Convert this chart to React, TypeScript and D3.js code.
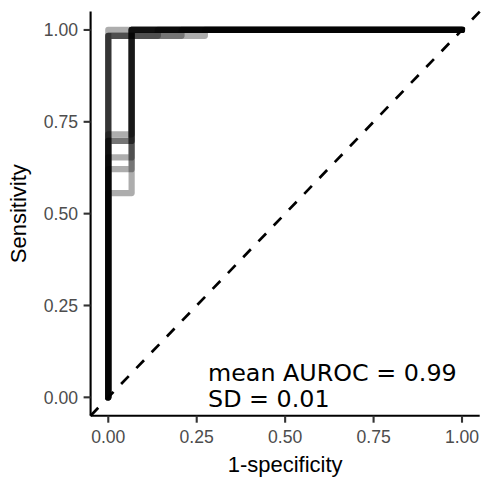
import React from "react";
import * as d3 from "d3";

// ROC curve data
const perfectFPR = [0, 0, 1];
const perfectTPR = [0, 1, 1];
const lateSens = 0.984;
const lateFPR = [0.14, 0.207, 0.273];
const stepFPR = 0.066;
const stepSens = [0.716, 0.698, 0.698, 0.653, 0.621, 0.556];

const xTicks = [0, 0.25, 0.5, 0.75, 1];
const yTicks = [0, 0.25, 0.5, 0.75, 1];
const meanAUROC = "0.99";
const sdAUROC = "0.01";

type Curve = { fpr: number[]; tpr: number[] };
const curves: Curve[] = [
  { fpr: perfectFPR, tpr: perfectTPR },
  ...lateFPR.map((f) => ({ fpr: [0, 0, f, f, 1], tpr: [0, lateSens, lateSens, 1, 1] })),
  ...stepSens.map((s) => ({ fpr: [0, 0, stepFPR, stepFPR, 1], tpr: [0, s, s, 1, 1] })),
];

export default function App() {
  const x = d3.scaleLinear().domain([-0.05, 1.05]).range([90.6, 479.7]);
  const y = d3.scaleLinear().domain([-0.05, 1.05]).range([415.7, 11.6]);
  const line = d3
    .line<[number, number]>()
    .x((d) => x(d[0]))
    .y((d) => y(d[1]));
  const tickFmt = d3.format(".2f");
  const sans = "'Liberation Sans', Arial, Helvetica, sans-serif";
  const left = x.range()[0];
  const bottom = y.range()[0];

  return (
    <svg
      width={481}
      height={481}
      style={{ position: "absolute", left: 0, top: 0, background: "#fff" }}
    >
      <rect x={0} y={0} width={481} height={481} fill="#fff" />
      {curves.map((c, i) => (
        <path
          key={i}
          d={line(c.fpr.map((f, j) => [f, c.tpr[j]] as [number, number])) || ""}
          fill="none"
          stroke="#000"
          strokeOpacity={0.32}
          strokeWidth={6.2}
          strokeLinecap="round"
          strokeLinejoin="round"
        />
      ))}
      <line
        x1={x(-0.05)}
        y1={y(-0.05)}
        x2={x(1.05)}
        y2={y(1.05)}
        stroke="#000"
        strokeWidth={2.7}
        strokeDasharray="11 11"
      />
      {/* axes */}
      <line x1={left} x2={x.range()[1]} y1={bottom} y2={bottom} stroke="#000" strokeWidth={2.1} />
      <line x1={left} x2={left} y1={y.range()[1]} y2={bottom} stroke="#000" strokeWidth={2.1} />
      {xTicks.map((t) => (
        <g key={"x" + t}>
          <line x1={x(t)} x2={x(t)} y1={bottom} y2={bottom + 7} stroke="#333" strokeWidth={2.1} />
          <text
            x={x(t)}
            y={443}
            textAnchor="middle"
            fontFamily={sans}
            fontSize={17.6}
            fill="#4d4d4d"
          >
            {tickFmt(t)}
          </text>
        </g>
      ))}
      {yTicks.map((t) => (
        <g key={"y" + t}>
          <line x1={left - 7} x2={left} y1={y(t)} y2={y(t)} stroke="#333" strokeWidth={2.1} />
          <text
            x={78}
            y={y(t) + 6.3}
            textAnchor="end"
            fontFamily={sans}
            fontSize={17.6}
            fill="#4d4d4d"
          >
            {tickFmt(t)}
          </text>
        </g>
      ))}
      <text
        x={(x.range()[0] + x.range()[1]) / 2}
        y={472}
        textAnchor="middle"
        fontFamily={sans}
        fontSize={22}
        fill="#000"
      >
        1-specificity
      </text>
      <text
        transform={`translate(26, ${(y.range()[0] + y.range()[1]) / 2}) rotate(-90)`}
        textAnchor="middle"
        fontFamily={sans}
        fontSize={22}
        fill="#000"
      >
        Sensitivity
      </text>
      <text x={x(0.282)} y={381} fontFamily="'DejaVu Sans', sans-serif" fontSize={23.8} fill="#000">
        mean AUROC = {meanAUROC}
      </text>
      <text x={x(0.282)} y={407} fontFamily="'DejaVu Sans', sans-serif" fontSize={23.8} fill="#000">
        SD = {sdAUROC}
      </text>
    </svg>
  );
}
